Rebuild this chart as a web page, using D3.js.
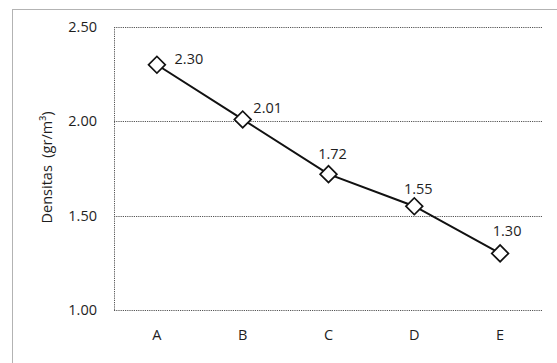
<!DOCTYPE html>
<html>
<head>
<meta charset="utf-8">
<script src="https://cdn.jsdelivr.net/npm/d3@7"></script>
<style>
  html, body { margin: 0; padding: 0; background: #fff; }
  svg { display: block; }
  text { font-family: "Open Sans", "Noto Sans", sans-serif; fill: #1e1e1e; }
</style>
</head>
<body>
<svg id="chart" width="557" height="363"></svg>
<script>
// Density per sample
const categories = ["A", "B", "C", "D", "E"];
const densitas = [2.30, 2.01, 1.72, 1.55, 1.30];
const yTicks = [1.00, 1.50, 2.00, 2.50];
const yTitle = "Densitas\u00A0\u00A0(gr/m³)";

// Label nudges (dx, dy) relative to each marker
const labelNudge = [[32, -6], [25, -12], [4, -20], [4, -17], [7, -22]];

const W = 557, H = 363;
const plot = { left: 114, right: 543, top: 27, bottom: 310 };

const svg = d3.select("#chart");

const x = d3.scaleBand().domain(categories).range([plot.left, plot.right]);
const y = d3.scaleLinear().domain([1.0, 2.5]).range([plot.bottom, plot.top]);

const dotted = { stroke: "#555", dash: "1.2,1" };

// Outer chart frame
svg.append("rect")
  .attr("x", 12.5).attr("y", 9.5)
  .attr("width", W + 10).attr("height", H + 10)
  .attr("fill", "none")
  .attr("stroke", "#666")
  .attr("stroke-width", 1)
  .attr("stroke-dasharray", "1,1");

// Horizontal gridlines
svg.append("g").selectAll("line")
  .data(yTicks)
  .join("line")
  .attr("x1", plot.left).attr("x2", plot.right)
  .attr("y1", d => Math.round(y(d)) + 0.5)
  .attr("y2", d => Math.round(y(d)) + 0.5)
  .attr("stroke", dotted.stroke)
  .attr("stroke-dasharray", dotted.dash);

// Left edge of plot area
svg.append("line")
  .attr("x1", plot.left + 0.5).attr("x2", plot.left + 0.5)
  .attr("y1", plot.top).attr("y2", plot.bottom)
  .attr("stroke", dotted.stroke)
  .attr("stroke-dasharray", dotted.dash);

// Y axis labels
const yAxis = d3.axisLeft(y).tickValues(yTicks).tickFormat(d3.format(".2f")).tickSize(0).tickPadding(0);
const gy = svg.append("g").attr("transform", `translate(${plot.left - 17},0)`).call(yAxis);
gy.select(".domain").remove();
gy.attr("font-size", 14.5).attr("font-family", "'Open Sans', sans-serif");
gy.selectAll("text").attr("fill", "#1e1e1e");

// X axis labels
const xAxis = d3.axisBottom(x).tickSize(0).tickPadding(0);
const gx = svg.append("g").attr("transform", `translate(0,${plot.bottom + 20})`).call(xAxis);
gx.select(".domain").remove();
gx.attr("font-size", 14.5).attr("font-family", "'Open Sans', sans-serif");
gx.selectAll("text").attr("fill", "#1e1e1e");

// Y axis title
svg.append("text")
  .attr("transform", `translate(52,${(plot.top + plot.bottom) / 2 - 1}) rotate(-90)`)
  .attr("text-anchor", "middle")
  .attr("font-size", 14.5)
  .text(yTitle);

const cx = (d, i) => x(categories[i]) + x.bandwidth() / 2;

// Series line
const line = d3.line().x((d, i) => cx(d, i)).y(d => y(d));
svg.append("path")
  .datum(densitas)
  .attr("d", line)
  .attr("fill", "none")
  .attr("stroke", "#111")
  .attr("stroke-width", 2);

// Diamond markers
const diamond = d3.symbol().type(d3.symbolSquare).size(140);
svg.append("g").selectAll("path")
  .data(densitas)
  .join("path")
  .attr("d", diamond)
  .attr("transform", (d, i) => `translate(${cx(d, i)},${y(d)}) rotate(45)`)
  .attr("fill", "#fff")
  .attr("stroke", "#111")
  .attr("stroke-width", 1.7);

// Data labels
svg.append("g").selectAll("text")
  .data(densitas)
  .join("text")
  .attr("x", (d, i) => cx(d, i) + labelNudge[i][0])
  .attr("y", (d, i) => y(d) + labelNudge[i][1])
  .attr("dy", "0.35em")
  .attr("text-anchor", "middle")
  .attr("font-size", 14.5)
  .text(d => d3.format(".2f")(d));
</script>
</body>
</html>
